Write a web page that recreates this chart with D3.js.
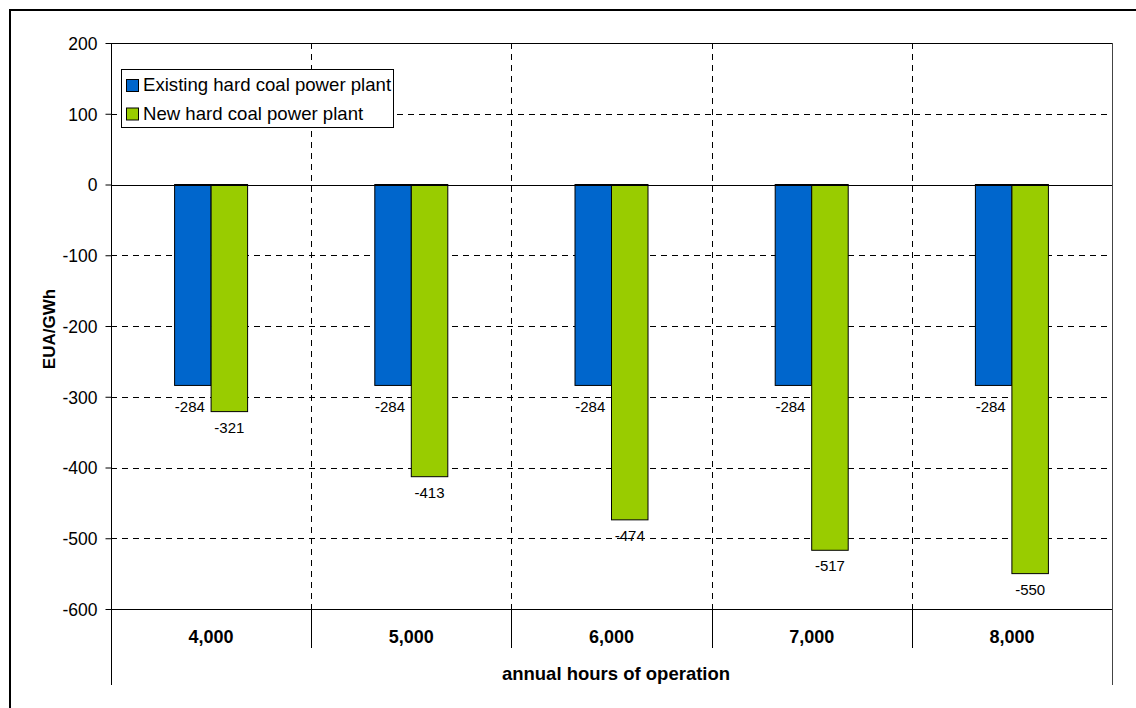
<!DOCTYPE html>
<html><head><meta charset="utf-8">
<script src="https://cdn.jsdelivr.net/npm/d3@7"></script>
<style>body{margin:0;background:#fff}svg{display:block;font-family:"Liberation Sans",Arial,sans-serif}</style>
</head><body><svg id="c" width="1136" height="708"></svg>
<script>
const categories = ["4,000","5,000","6,000","7,000","8,000"];
const seriesNames = ["Existing hard coal power plant","New hard coal power plant"];
const existing = [-284,-284,-284,-284,-284];
const newPlant = [-321,-413,-474,-517,-550];
const yTicks = [200,100,0,-100,-200,-300,-400,-500,-600];
const colors = ["#0066CC","#99CC00"];

const svg = d3.select("#c");
const L=111,R=1112,T=43,B=609;
svg.append("rect").attr("x",10).attr("y",10).attr("width",1140).attr("height",720).attr("fill","none").attr("stroke","#000").attr("stroke-width",2);

const y = d3.scaleLinear().domain([-600,200]).range([B,T]);
const x = d3.scaleBand().domain(categories).range([L,R]);
const xs = d3.scaleBand().domain([0,1]).range([0,73]);

// horizontal grid
svg.append("g").selectAll("line").data(yTicks.filter(v=>v!==0&&v!==-600&&v!==200)).join("line")
 .attr("x1",L).attr("x2",R).attr("y1",d=>Math.round(y(d))+0.5).attr("y2",d=>Math.round(y(d))+0.5)
 .attr("stroke","#000").attr("stroke-dasharray","6,5").attr("stroke-width",1);
// vertical grid
svg.append("g").selectAll("line").data(categories.slice(1)).join("line")
 .attr("x1",d=>Math.round(x(d))+0.5).attr("x2",d=>Math.round(x(d))+0.5).attr("y1",T).attr("y2",B)
 .attr("stroke","#000").attr("stroke-dasharray","6,5");
// top and right border
svg.append("line").attr("x1",L).attr("x2",R).attr("y1",Math.round(y(200))+0.5).attr("y2",Math.round(y(200))+0.5).attr("stroke","#000");
svg.append("line").attr("x1",R+0.5).attr("x2",R+0.5).attr("y1",T).attr("y2",685).attr("stroke","#444");

// bars
const data = categories.map((c,i)=>({c,vals:[existing[i],newPlant[i]]}));
const g = svg.append("g").selectAll("g").data(data).join("g")
 .attr("transform",d=>`translate(${x(d.c)+x.bandwidth()/2-36.5},0)`);
g.selectAll("rect").data(d=>d.vals.map((v,k)=>({v,k}))).join("rect")
 .attr("x",d=>xs(d.k)).attr("width",xs.bandwidth())
 .attr("y",y(0)).attr("height",d=>y(d.v)-y(0))
 .attr("fill",d=>colors[d.k]).attr("stroke","#000").attr("stroke-width",1);
g.selectAll("text").data(d=>d.vals.map((v,k)=>({v,k}))).join("text")
 .attr("x",d=>xs(d.k)+xs.bandwidth()/2-(d.k===0?3:0)).attr("y",d=>y(d.v)+(d.k===0?27:21))
 .attr("text-anchor","middle").attr("font-size",15).text(d=>String(d.v));

// zero line and bottom axis
svg.append("line").attr("x1",L).attr("x2",R).attr("y1",Math.round(y(0))+0.5).attr("y2",Math.round(y(0))+0.5).attr("stroke","#000");
svg.append("line").attr("x1",L).attr("x2",R).attr("y1",Math.round(y(-600))+0.5).attr("y2",Math.round(y(-600))+0.5).attr("stroke","#000");
// y axis
const ya = svg.append("g").attr("transform",`translate(${L+0.5},0)`)
 .call(d3.axisLeft(y).tickValues(yTicks).tickFormat(d=>String(d)).tickSize(6).tickPadding(8).tickSizeOuter(0));
ya.select(".domain").remove();
ya.append("line").attr("y1",T).attr("y2",685).attr("stroke","#000");
ya.selectAll("text").attr("font-size",17.5).attr("fill","#000").attr("font-family","Liberation Sans, Arial").attr("dy","0.36em");
ya.selectAll(".tick line").attr("stroke","#000");
// category separators below axis
svg.append("g").selectAll("line").data(categories.slice(1)).join("line")
 .attr("x1",d=>Math.round(x(d))+0.5).attr("x2",d=>Math.round(x(d))+0.5).attr("y1",B).attr("y2",648).attr("stroke","#000");
svg.append("g").selectAll("text").data(categories).join("text")
 .attr("x",d=>x(d)+x.bandwidth()/2).attr("y",643).attr("text-anchor","middle")
 .attr("font-size",18).attr("font-weight","bold").text(d=>d);

svg.append("text").attr("x",616).attr("y",680).attr("text-anchor","middle").attr("font-size",18.5).attr("font-weight","bold").text("annual hours of operation");
svg.append("text").attr("transform","translate(55,329) rotate(-90)").attr("text-anchor","middle").attr("font-size",17).attr("font-weight","bold").text("EUA/GWh");

// legend
const lg = svg.append("g");
lg.append("rect").attr("x",121.5).attr("y",69.5).attr("width",272).attr("height",58).attr("fill","#fff").attr("stroke","#000");
seriesNames.forEach((n,i)=>{
  lg.append("rect").attr("x",126.5).attr("y",79.5+i*28.5).attr("width",12).attr("height",12).attr("fill",colors[i]).attr("stroke","#000");
  lg.append("text").attr("x",143).attr("y",91+i*28.5).attr("font-size",18.6).text(n);
});
</script></body></html>
